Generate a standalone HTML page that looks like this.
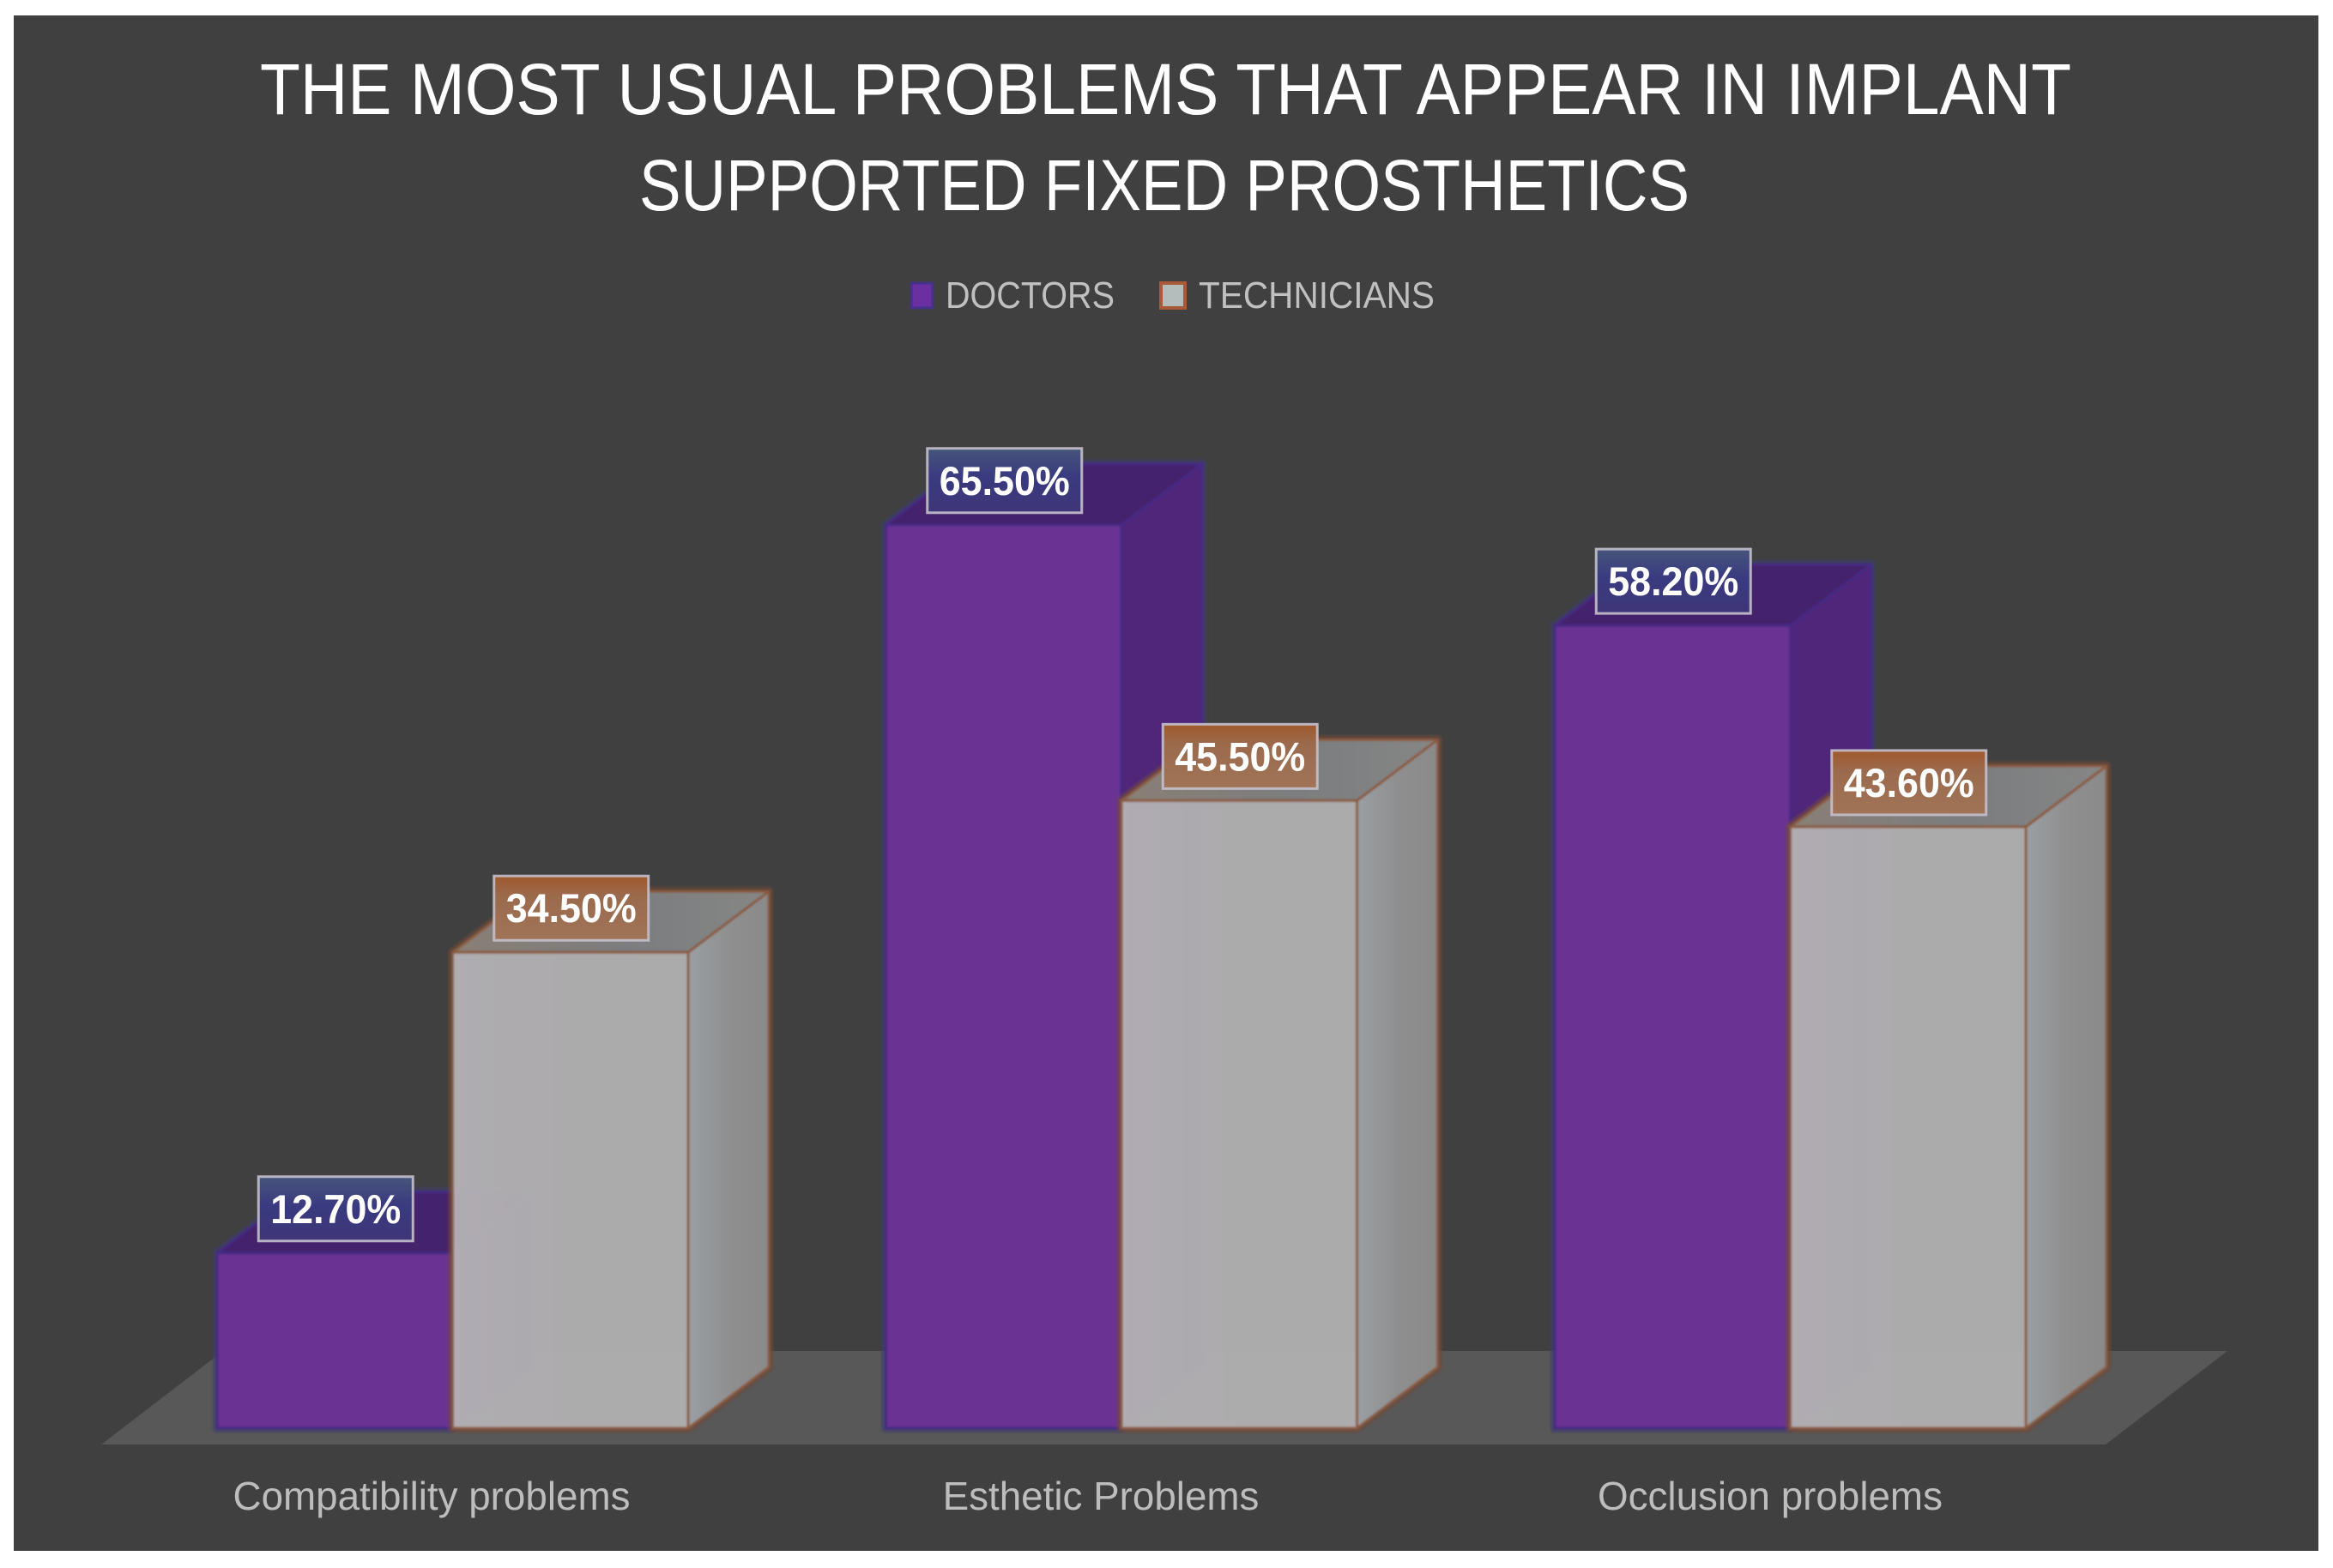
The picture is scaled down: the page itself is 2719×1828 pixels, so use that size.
<!DOCTYPE html>
<html lang="en">
<head>
<meta charset="utf-8">
<title>The most usual problems that appear in implant supported fixed prosthetics</title>
<style>
html,body{margin:0;padding:0;background:#fff;width:2719px;height:1828px;overflow:hidden}
svg{display:block}
text{font-family:"Liberation Sans",sans-serif}
</style>
</head>
<body>
<svg id="chart" xmlns="http://www.w3.org/2000/svg" width="2719" height="1828" viewBox="0 0 2719 1828">
  <defs>
    <linearGradient id="gray-side" x1="0" y1="0" x2="1" y2="0">
      <stop offset="0" stop-color="#9a9fa3"/><stop offset="0.5" stop-color="#8f8f8f"/><stop offset="1" stop-color="#8a8a8a"/>
    </linearGradient>
    <linearGradient id="gray-top" x1="0" y1="0" x2="1" y2="0">
      <stop offset="0" stop-color="#8a7f76"/><stop offset="0.55" stop-color="#7b7d7e"/><stop offset="1" stop-color="#868686"/>
    </linearGradient>
    <linearGradient id="gray-front" x1="0" y1="0" x2="1" y2="0">
      <stop offset="0" stop-color="#b4b1b5"/><stop offset="0.3" stop-color="#b1b0b1"/><stop offset="1" stop-color="#b0b0b0"/>
    </linearGradient>
    <linearGradient id="box-doctors" x1="0" y1="0" x2="0" y2="1">
      <stop offset="0" stop-color="#46557a"/><stop offset="0.45" stop-color="#3a3a80"/><stop offset="1" stop-color="#3e3678"/>
    </linearGradient>
    <linearGradient id="box-technicians" x1="0" y1="0" x2="0" y2="1">
      <stop offset="0" stop-color="#a0582c"/><stop offset="0.3" stop-color="#9b6a4c"/><stop offset="1" stop-color="#a07458"/>
    </linearGradient>
    <filter id="soft" x="-5%" y="-5%" width="110%" height="110%"><feGaussianBlur stdDeviation="1.1"/></filter>
  </defs>
  <rect x="16" y="18" width="2686" height="1790" fill="#404040"/>
  <polygon points="118,1684 2454,1684 2596,1575 260,1575" fill="#585858"/>
  <g id="bars" filter="url(#soft)"></g>
  <g id="value-labels"></g>
  <text x="303" y="133" font-size="84" fill="#ffffff" textLength="2111" lengthAdjust="spacingAndGlyphs">THE MOST USUAL PROBLEMS THAT APPEAR IN IMPLANT</text>
  <text x="745" y="245" font-size="84" fill="#ffffff" textLength="1224" lengthAdjust="spacingAndGlyphs">SUPPORTED FIXED PROSTHETICS</text>
  <g>
    <rect x="1062" y="330" width="25" height="29" fill="#6a2fa0" stroke="#45308a" stroke-width="3"/>
    <text x="1102" y="359" font-size="44" fill="#c0c0c0" textLength="197" lengthAdjust="spacingAndGlyphs">DOCTORS</text>
    <rect x="1353" y="330" width="28" height="29" fill="#b4bcbc" stroke="#a85a38" stroke-width="4"/>
    <text x="1397" y="359" font-size="44" fill="#c0c0c0" textLength="275" lengthAdjust="spacingAndGlyphs">TECHNICIANS</text>
  </g>
  <g id="category-labels"></g>
</svg>
<script>
const categories = ["Compatibility problems", "Esthetic Problems", "Occlusion problems"];
const doctors = [12.7, 65.5, 58.2];
const technicians = [34.5, 45.5, 43.6];

const SVG_NS = "http://www.w3.org/2000/svg";
const baseY = 1665, pxPerUnit = 16.08;
const groupStart = 253, groupStep = 779.5, barW = 274.5;
const depthX = 94, depthY = 71;

function yScale(v) { return baseY - v * pxPerUnit; }
function xScale(cat, seriesIdx) { return groupStart + cat * groupStep + seriesIdx * barW; }

function make(tag, attrs, parent) {
  const el = document.createElementNS(SVG_NS, tag);
  for (const k in attrs) el.setAttribute(k, attrs[k]);
  parent.appendChild(el);
  return el;
}
function pts(a) { return a.map(p => p.join(",")).join(" "); }

const barsLayer = document.getElementById("bars");
const labelsLayer = document.getElementById("value-labels");
const catLayer = document.getElementById("category-labels");

function drawBar(cat, seriesIdx, value, seriesName, style) {
  const x0 = xScale(cat, seriesIdx), x1 = x0 + barW;
  const yT = yScale(value), yB = baseY;
  const g = make("g", {}, barsLayer);
  
  
  make("polygon", { points: pts([[x0, yT], [x0 + depthX, yT - depthY], [x1 + depthX, yT - depthY], [x1 + depthX, yB - depthY], [x1, yB], [x0, yB]]), fill: "none", stroke: style.halo, "stroke-width": 11, "stroke-opacity": 0.6, "stroke-linejoin": "round" }, g);
  make("polygon", { points: pts([[x1, yT], [x1 + depthX, yT - depthY], [x1 + depthX, yB - depthY], [x1, yB]]), fill: style.side, stroke: style.stroke, "stroke-width": style.sw, "stroke-linejoin": "round" }, g);
  make("polygon", { points: pts([[x0, yT], [x0 + depthX, yT - depthY], [x1 + depthX, yT - depthY], [x1, yT]]), fill: style.top, stroke: style.stroke, "stroke-width": style.sw, "stroke-linejoin": "round" }, g);
  make("rect", { x: x0, y: yT, width: barW, height: yB - yT, fill: style.front, "fill-opacity": style.opacity, stroke: style.stroke, "stroke-width": style.sw }, g);
}

function drawValueLabel(cat, seriesIdx, value, seriesName, fill) {
  const boxW = 180, boxH = 75;
  const cx = xScale(cat, seriesIdx) + barW / 2 + 1;
  const bottom = yScale(value) - 14;
  const g = make("g", {}, labelsLayer);
  
  
  make("rect", { x: cx - boxW / 2, y: bottom - boxH, width: boxW, height: boxH, fill: fill, stroke: "#c4c0cc", "stroke-opacity": 0.9, "stroke-width": 3 }, g);
  const t = make("text", { x: cx - 76, y: bottom - 21, "font-size": 47, "font-weight": "bold", fill: "#ffffff", textLength: 152, lengthAdjust: "spacingAndGlyphs" }, g);
  t.textContent = value.toFixed(2) + "%";
}

const doctorStyle = { front: "#6a3092", side: "#50257a", top: "#44206c", stroke: "#452c85", halo: "#3e3a6c", sw: 3, opacity: 1 };
const techStyle = { front: "url(#gray-front)", side: "url(#gray-side)", top: "url(#gray-top)", stroke: "#8a5a3e", halo: "#6e4a38", sw: 3, opacity: 0.96 };

categories.forEach((name, i) => {
  drawBar(i, 0, doctors[i], "doctors", doctorStyle);
});
categories.forEach((name, i) => {
  drawBar(i, 1, technicians[i], "technicians", techStyle);
});
categories.forEach((name, i) => {
  drawValueLabel(i, 0, doctors[i], "doctors", "url(#box-doctors)");
  drawValueLabel(i, 1, technicians[i], "technicians", "url(#box-technicians)");
  const label = make("text", { x: 503 + i * 780, y: 1760, "font-size": 46, fill: "#bdbdbd", "text-anchor": "middle" }, catLayer);
  
  
  label.textContent = name;
  const natural = label.getComputedTextLength();
  label.setAttribute("textLength", natural * 0.995);
  label.setAttribute("lengthAdjust", "spacingAndGlyphs");
});
</script>
</body>
</html>
